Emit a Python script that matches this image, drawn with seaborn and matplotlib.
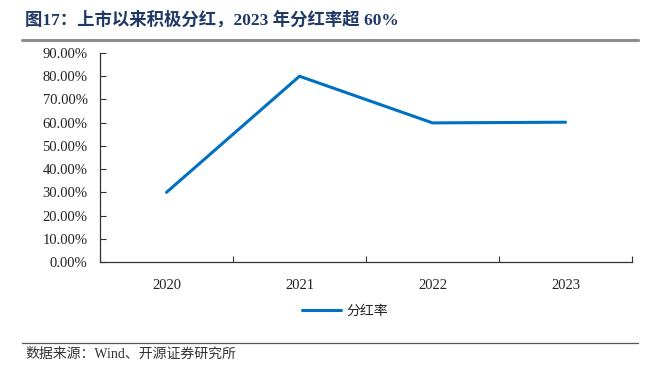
import matplotlib
matplotlib.use("Agg")
import matplotlib.pyplot as plt
import seaborn as sns
import pandas as pd
import numpy as np
from matplotlib.ticker import FixedLocator, PercentFormatter
from matplotlib.lines import Line2D

years = ["2020", "2021", "2022", "2023"]
payout = [30.0, 80.0, 59.9, 60.2]
series_name = "分红率"
yticks = [0, 10, 20, 30, 40, 50, 60, 70, 80, 90]

title = "图17：上市以来积极分红，2023 年分红率超 60%"
source = "数据来源：Wind、开源证券研究所"

sns.set_theme(style="white")
plt.rcParams['font.family'] = ['Liberation Serif', 'Noto Sans CJK SC', 'DejaVu Sans']

df = pd.DataFrame({"year": years, "value": payout, "series": series_name})
df["x"] = np.arange(len(years))

fig = plt.figure(figsize=(6.6, 3.65), dpi=100)
ax = fig.add_axes([100/660, (365-262)/365, (632-100)/660, (262-53)/365])

sns.lineplot(data=df, x="x", y="value", color="#0070C0", linewidth=2.2, ax=ax, legend=False)

ax.set_xlim(-0.5, len(years) - 0.5)
ax.set_ylim(0, 90)
ax.set_yticks(yticks)
ax.yaxis.set_major_formatter(PercentFormatter(decimals=2))
ax.set_xticks(df["x"])
ax.set_xticklabels(years)
ax.xaxis.set_minor_locator(FixedLocator(np.arange(len(years) + 1) - 0.5))
ax.tick_params(axis="x", which="major", length=0, pad=12, labelsize=10.5, colors="#222222")
ax.tick_params(axis="x", which="minor", length=4, direction="in", color="#333333", width=0.8, bottom=True)
ax.tick_params(axis="y", which="major", length=4, direction="in", color="#333333", width=0.8, left=True, labelsize=10.5, pad=9, labelcolor="#222222")
ax.set_xlabel("")
ax.set_ylabel("")
for s in ["top", "right"]:
    ax.spines[s].set_visible(False)
for s in ["left", "bottom"]:
    ax.spines[s].set_color("#333333")
    ax.spines[s].set_linewidth(0.9)
ax.grid(False)

handle = Line2D([], [], color="#0070C0", linewidth=2.2)
fig.legend([handle], [series_name], loc="center", bbox_to_anchor=(345/660, 1 - 311/365),
           frameon=False, prop={"family": ["Noto Sans CJK SC"], "size": 10}, handlelength=2.8,
           handletextpad=0.4)

fig.text(25/660, 1 - 20/365, title, ha="left", va="center", fontsize=12.5, fontweight="bold",
         color="#1F3864", family=["Liberation Serif", "Noto Sans CJK SC"])
fig.add_artist(Line2D([22/660, 638/660], [1 - 40/365, 1 - 40/365], color="#8C8C8C", linewidth=2.2))
fig.add_artist(Line2D([22/660, 638/660], [1 - 343/365, 1 - 343/365], color="#555555", linewidth=0.9))
fig.text(25/660, 1 - 354/365, source, ha="left", va="center", fontsize=10, color="#333333",
         family=["Liberation Serif", "Noto Sans CJK SC"])

fig.savefig("out.png", dpi=100)
